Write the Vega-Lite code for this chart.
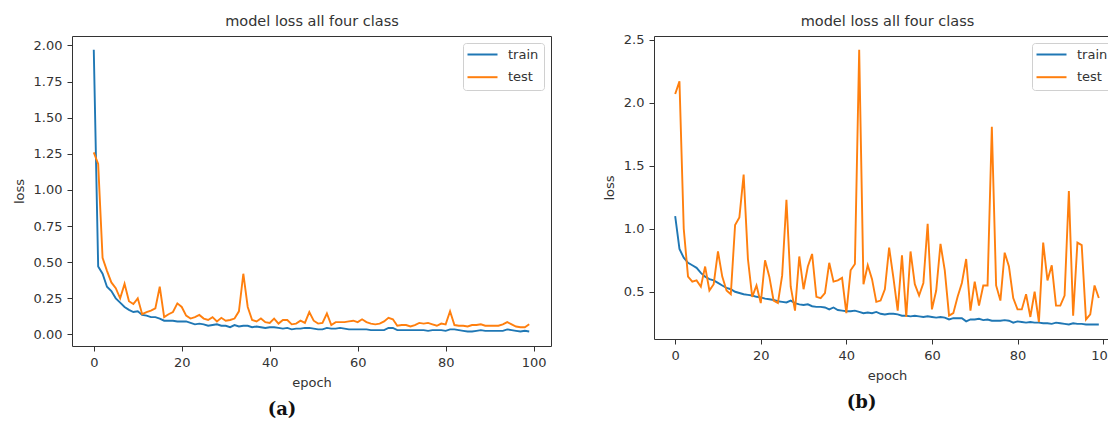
{
  "$schema": "https://vega.github.io/schema/vega-lite/v6.json",
  "padding": {"left": 12, "top": 12, "right": 5, "bottom": 5},
  "background": "white",
  "datasets": {
    "a": [
      {"epoch":0,"train":1.97,"test":1.26},{"epoch":1,"train":0.47,"test":1.18},{"epoch":2,"train":0.42,"test":0.53},{"epoch":3,"train":0.33,"test":0.44},{"epoch":4,"train":0.30,"test":0.36},
      {"epoch":5,"train":0.25,"test":0.32},{"epoch":6,"train":0.22,"test":0.25},{"epoch":7,"train":0.19,"test":0.35},{"epoch":8,"train":0.17,"test":0.23},{"epoch":9,"train":0.155,"test":0.21},
      {"epoch":10,"train":0.16,"test":0.25},{"epoch":11,"train":0.135,"test":0.14},{"epoch":12,"train":0.13,"test":0.155},{"epoch":13,"train":0.12,"test":0.165},{"epoch":14,"train":0.12,"test":0.18},
      {"epoch":15,"train":0.11,"test":0.33},{"epoch":16,"train":0.095,"test":0.12},{"epoch":17,"train":0.095,"test":0.14},{"epoch":18,"train":0.095,"test":0.155},{"epoch":19,"train":0.09,"test":0.215},
      {"epoch":20,"train":0.09,"test":0.19},{"epoch":21,"train":0.09,"test":0.13},{"epoch":22,"train":0.08,"test":0.11},{"epoch":23,"train":0.07,"test":0.12},{"epoch":24,"train":0.075,"test":0.135},
      {"epoch":25,"train":0.07,"test":0.11},{"epoch":26,"train":0.06,"test":0.10},{"epoch":27,"train":0.065,"test":0.12},{"epoch":28,"train":0.07,"test":0.09},{"epoch":29,"train":0.06,"test":0.115},
      {"epoch":30,"train":0.06,"test":0.095},{"epoch":31,"train":0.05,"test":0.10},{"epoch":32,"train":0.065,"test":0.11},{"epoch":33,"train":0.055,"test":0.16},{"epoch":34,"train":0.06,"test":0.42},
      {"epoch":35,"train":0.06,"test":0.19},{"epoch":36,"train":0.05,"test":0.10},{"epoch":37,"train":0.055,"test":0.09},{"epoch":38,"train":0.05,"test":0.11},{"epoch":39,"train":0.045,"test":0.085},
      {"epoch":40,"train":0.05,"test":0.08},{"epoch":41,"train":0.05,"test":0.11},{"epoch":42,"train":0.045,"test":0.075},{"epoch":43,"train":0.04,"test":0.10},{"epoch":44,"train":0.045,"test":0.10},
      {"epoch":45,"train":0.035,"test":0.07},{"epoch":46,"train":0.04,"test":0.075},{"epoch":47,"train":0.04,"test":0.095},{"epoch":48,"train":0.045,"test":0.08},{"epoch":49,"train":0.045,"test":0.155},
      {"epoch":50,"train":0.04,"test":0.095},{"epoch":51,"train":0.035,"test":0.075},{"epoch":52,"train":0.035,"test":0.08},{"epoch":53,"train":0.045,"test":0.145},{"epoch":54,"train":0.04,"test":0.065},
      {"epoch":55,"train":0.04,"test":0.085},{"epoch":56,"train":0.045,"test":0.085},{"epoch":57,"train":0.04,"test":0.085},{"epoch":58,"train":0.035,"test":0.09},{"epoch":59,"train":0.035,"test":0.095},
      {"epoch":60,"train":0.035,"test":0.085},{"epoch":61,"train":0.035,"test":0.105},{"epoch":62,"train":0.035,"test":0.085},{"epoch":63,"train":0.03,"test":0.075},{"epoch":64,"train":0.03,"test":0.07},
      {"epoch":65,"train":0.03,"test":0.075},{"epoch":66,"train":0.03,"test":0.09},{"epoch":67,"train":0.045,"test":0.115},{"epoch":68,"train":0.045,"test":0.105},{"epoch":69,"train":0.03,"test":0.06},
      {"epoch":70,"train":0.03,"test":0.065},{"epoch":71,"train":0.03,"test":0.065},{"epoch":72,"train":0.03,"test":0.055},{"epoch":73,"train":0.03,"test":0.065},{"epoch":74,"train":0.03,"test":0.08},
      {"epoch":75,"train":0.03,"test":0.075},{"epoch":76,"train":0.025,"test":0.08},{"epoch":77,"train":0.03,"test":0.07},{"epoch":78,"train":0.03,"test":0.06},{"epoch":79,"train":0.03,"test":0.075},
      {"epoch":80,"train":0.025,"test":0.07},{"epoch":81,"train":0.035,"test":0.16},{"epoch":82,"train":0.035,"test":0.065},{"epoch":83,"train":0.03,"test":0.06},{"epoch":84,"train":0.025,"test":0.06},
      {"epoch":85,"train":0.02,"test":0.055},{"epoch":86,"train":0.02,"test":0.065},{"epoch":87,"train":0.025,"test":0.065},{"epoch":88,"train":0.03,"test":0.07},{"epoch":89,"train":0.025,"test":0.06},
      {"epoch":90,"train":0.025,"test":0.06},{"epoch":91,"train":0.025,"test":0.06},{"epoch":92,"train":0.025,"test":0.06},{"epoch":93,"train":0.025,"test":0.07},{"epoch":94,"train":0.035,"test":0.085},
      {"epoch":95,"train":0.03,"test":0.07},{"epoch":96,"train":0.025,"test":0.055},{"epoch":97,"train":0.02,"test":0.05},{"epoch":98,"train":0.025,"test":0.05},{"epoch":99,"train":0.02,"test":0.07}
    ],
    "b": [
      {"epoch":0,"train":1.10,"test":2.07},{"epoch":1,"train":0.84,"test":2.17},{"epoch":2,"train":0.77,"test":1.0},{"epoch":3,"train":0.73,"test":0.62},{"epoch":4,"train":0.71,"test":0.58},
      {"epoch":5,"train":0.69,"test":0.59},{"epoch":6,"train":0.65,"test":0.54},{"epoch":7,"train":0.62,"test":0.70},{"epoch":8,"train":0.60,"test":0.51},{"epoch":9,"train":0.59,"test":0.56},
      {"epoch":10,"train":0.57,"test":0.82},{"epoch":11,"train":0.55,"test":0.62},{"epoch":12,"train":0.53,"test":0.51},{"epoch":13,"train":0.52,"test":0.48},{"epoch":14,"train":0.50,"test":1.03},
      {"epoch":15,"train":0.49,"test":1.09},{"epoch":16,"train":0.48,"test":1.43},{"epoch":17,"train":0.475,"test":0.76},{"epoch":18,"train":0.47,"test":0.46},{"epoch":19,"train":0.46,"test":0.55},
      {"epoch":20,"train":0.455,"test":0.41},{"epoch":21,"train":0.445,"test":0.75},{"epoch":22,"train":0.44,"test":0.62},{"epoch":23,"train":0.435,"test":0.43},{"epoch":24,"train":0.425,"test":0.41},
      {"epoch":25,"train":0.42,"test":0.63},{"epoch":26,"train":0.415,"test":1.23},{"epoch":27,"train":0.43,"test":0.54},{"epoch":28,"train":0.41,"test":0.35},{"epoch":29,"train":0.40,"test":0.78},
      {"epoch":30,"train":0.395,"test":0.52},{"epoch":31,"train":0.40,"test":0.70},{"epoch":32,"train":0.385,"test":0.80},{"epoch":33,"train":0.38,"test":0.46},{"epoch":34,"train":0.38,"test":0.45},
      {"epoch":35,"train":0.375,"test":0.49},{"epoch":36,"train":0.36,"test":0.73},{"epoch":37,"train":0.375,"test":0.58},{"epoch":38,"train":0.355,"test":0.59},{"epoch":39,"train":0.35,"test":0.61},
      {"epoch":40,"train":0.345,"test":0.33},{"epoch":41,"train":0.345,"test":0.67},{"epoch":42,"train":0.35,"test":0.72},{"epoch":43,"train":0.34,"test":2.42},{"epoch":44,"train":0.33,"test":0.56},
      {"epoch":45,"train":0.335,"test":0.71},{"epoch":46,"train":0.33,"test":0.60},{"epoch":47,"train":0.34,"test":0.42},{"epoch":48,"train":0.325,"test":0.43},{"epoch":49,"train":0.32,"test":0.52},
      {"epoch":50,"train":0.325,"test":0.85},{"epoch":51,"train":0.325,"test":0.61},{"epoch":52,"train":0.32,"test":0.35},{"epoch":53,"train":0.31,"test":0.79},{"epoch":54,"train":0.31,"test":0.30},
      {"epoch":55,"train":0.305,"test":0.82},{"epoch":56,"train":0.31,"test":0.56},{"epoch":57,"train":0.305,"test":0.47},{"epoch":58,"train":0.30,"test":0.57},{"epoch":59,"train":0.305,"test":1.04},
      {"epoch":60,"train":0.30,"test":0.36},{"epoch":61,"train":0.295,"test":0.51},{"epoch":62,"train":0.30,"test":0.88},{"epoch":63,"train":0.295,"test":0.67},{"epoch":64,"train":0.28,"test":0.31},
      {"epoch":65,"train":0.29,"test":0.33},{"epoch":66,"train":0.29,"test":0.46},{"epoch":67,"train":0.29,"test":0.57},{"epoch":68,"train":0.265,"test":0.76},{"epoch":69,"train":0.28,"test":0.35},
      {"epoch":70,"train":0.28,"test":0.58},{"epoch":71,"train":0.285,"test":0.39},{"epoch":72,"train":0.275,"test":0.55},{"epoch":73,"train":0.28,"test":0.55},{"epoch":74,"train":0.27,"test":1.81},
      {"epoch":75,"train":0.27,"test":0.55},{"epoch":76,"train":0.27,"test":0.43},{"epoch":77,"train":0.275,"test":0.81},{"epoch":78,"train":0.27,"test":0.70},{"epoch":79,"train":0.255,"test":0.45},
      {"epoch":80,"train":0.265,"test":0.36},{"epoch":81,"train":0.26,"test":0.36},{"epoch":82,"train":0.255,"test":0.48},{"epoch":83,"train":0.26,"test":0.30},{"epoch":84,"train":0.255,"test":0.50},
      {"epoch":85,"train":0.255,"test":0.26},{"epoch":86,"train":0.25,"test":0.89},{"epoch":87,"train":0.25,"test":0.59},{"epoch":88,"train":0.245,"test":0.71},{"epoch":89,"train":0.255,"test":0.39},
      {"epoch":90,"train":0.25,"test":0.39},{"epoch":91,"train":0.245,"test":0.47},{"epoch":92,"train":0.24,"test":1.30},{"epoch":93,"train":0.25,"test":0.31},{"epoch":94,"train":0.245,"test":0.89},
      {"epoch":95,"train":0.245,"test":0.87},{"epoch":96,"train":0.24,"test":0.28},{"epoch":97,"train":0.24,"test":0.32},{"epoch":98,"train":0.24,"test":0.55},{"epoch":99,"train":0.24,"test":0.45}
    ]
  },
  "spacing": 103,
  "bounds": "flush",
  "hconcat": [
    {
      "width": 479,
      "height": 310,
      "title": {"text": "(a)", "orient": "bottom", "font": "DejaVu Serif", "fontSize": 18, "fontWeight": "bold", "color": "#111", "offset": 12, "anchor": "middle", "frame": "bounds"},
      "data": {"name": "a"},
      "transform": [{"fold": ["train", "test"], "as": ["series", "loss"]}],
      "encoding": {
        "y": {"field": "loss", "type": "quantitative", "scale": {"domain": [-0.08, 2.065], "nice": false, "zero": false}, "axis": {"values": [0, 0.25, 0.5, 0.75, 1.0, 1.25, 1.5, 1.75, 2.0], "format": ".2f", "title": "loss"}},
        "color": {"field": "series", "type": "nominal", "scale": {"domain": ["train", "test"], "range": ["#1f77b4", "#ff7f0e"]}, "legend": {"title": null, "orient": "top-right"}}
      },
      "layer": [
        {
          "transform": [{"filter": "datum.series === 'train'"}],
          "mark": {"type": "line", "clip": true, "strokeWidth": 1.9},
          "encoding": {
            "x": {"field": "epoch", "type": "quantitative", "scale": {"domain": [-4.95, 103.95], "nice": false, "zero": false}, "axis": {"values": [0, 20, 40, 60, 80, 100], "title": "epoch"}}
          }
        },
        {
          "transform": [{"filter": "datum.series === 'test'"}],
          "mark": {"type": "line", "clip": true, "strokeWidth": 1.9},
          "encoding": {
            "x": {"field": "epoch", "type": "quantitative", "scale": {"domain": [-4.95, 103.95], "nice": false, "zero": false}, "axis": {"orient": "top", "labels": false, "ticks": false, "title": "model loss all four class", "titleFontSize": 14.5, "titlePadding": 8}}
          }
        }
      ],
      "resolve": {"axis": {"x": "independent"}}
    },
    {
      "width": 466,
      "height": 303,
      "title": {"text": "(b)", "orient": "bottom", "font": "DejaVu Serif", "fontSize": 18, "fontWeight": "bold", "color": "#111", "offset": 12, "anchor": "middle", "frame": "bounds"},
      "data": {"name": "b"},
      "transform": [{"fold": ["train", "test"], "as": ["series", "loss"]}],
      "encoding": {
        "y": {"field": "loss", "type": "quantitative", "scale": {"domain": [0.125, 2.53], "nice": false, "zero": false}, "axis": {"values": [0.5, 1.0, 1.5, 2.0, 2.5], "format": ".1f", "title": "loss"}},
        "color": {"field": "series", "type": "nominal", "scale": {"domain": ["train", "test"], "range": ["#1f77b4", "#ff7f0e"]}, "legend": {"title": null, "orient": "top-right"}}
      },
      "layer": [
        {
          "transform": [{"filter": "datum.series === 'train'"}],
          "mark": {"type": "line", "clip": true, "strokeWidth": 1.9},
          "encoding": {
            "x": {"field": "epoch", "type": "quantitative", "scale": {"domain": [-4.95, 103.95], "nice": false, "zero": false}, "axis": {"values": [0, 20, 40, 60, 80, 100], "title": "epoch"}}
          }
        },
        {
          "transform": [{"filter": "datum.series === 'test'"}],
          "mark": {"type": "line", "clip": true, "strokeWidth": 1.9},
          "encoding": {
            "x": {"field": "epoch", "type": "quantitative", "scale": {"domain": [-4.95, 103.95], "nice": false, "zero": false}, "axis": {"orient": "top", "labels": false, "ticks": false, "title": "model loss all four class", "titleFontSize": 14.5, "titlePadding": 8}}
          }
        }
      ],
      "resolve": {"axis": {"x": "independent"}}
    }
  ],
  "resolve": {"scale": {"color": "independent", "x": "independent", "y": "independent"}, "legend": {"color": "independent"}},
  "config": {
    "font": "DejaVu Sans",
    "view": {"stroke": "#333", "strokeWidth": 1},
    "axis": {"domain": false, "grid": false, "tickColor": "#333", "tickSize": 5, "labelFontSize": 13, "labelColor": "#333", "labelPadding": 5, "titleFontSize": 13, "titleFontWeight": "normal", "titleColor": "#333", "titlePadding": 7},
    "title": {"fontSize": 14.5, "fontWeight": "normal", "color": "#333", "offset": 8, "anchor": "middle"},
    "legend": {"offset": 7, "padding": 5, "strokeColor": "#d0d0d0", "fillColor": "white", "cornerRadius": 3, "labelFontSize": 13, "labelColor": "#333", "symbolType": "M-3,0H3", "symbolStrokeWidth": 2, "symbolSize": 100, "symbolOffset": 8, "labelOffset": 19, "rowPadding": 8.7}
  }
}
